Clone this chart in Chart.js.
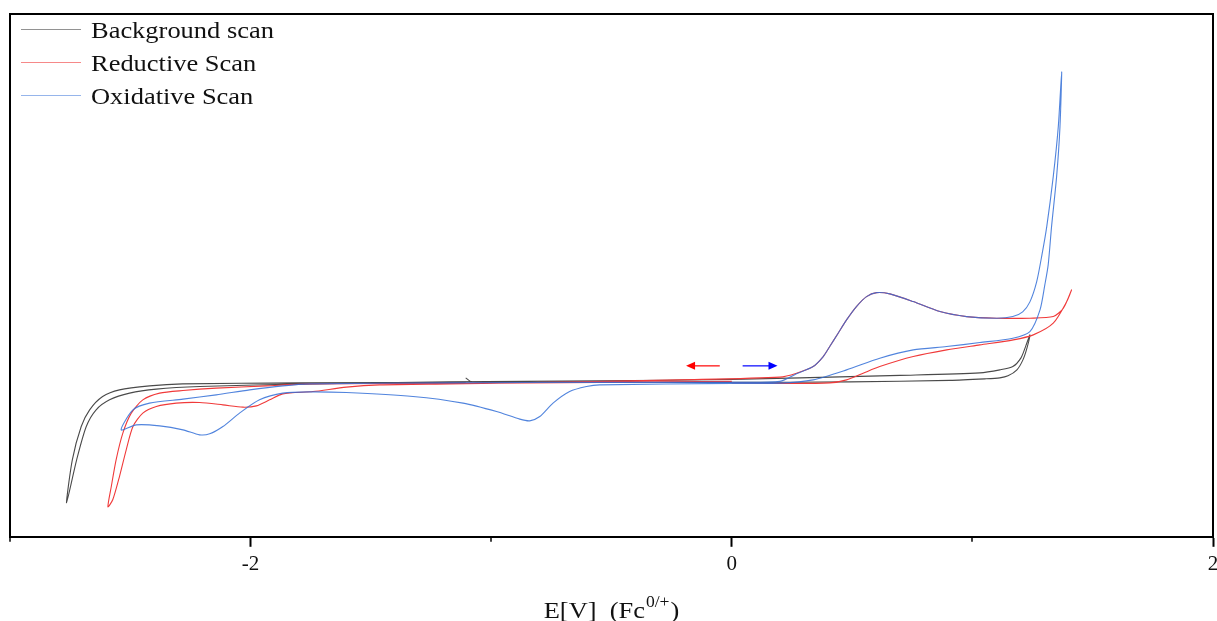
<!DOCTYPE html>
<html><head><meta charset="utf-8">
<script src="https://cdn.jsdelivr.net/npm/chart.js@4.4.0/dist/chart.umd.min.js"></script>
<style>html,body{margin:0;padding:0;background:#fff;overflow:hidden}</style>
</head><body>
<canvas id="c" width="1217" height="621"></canvas>
<script>
// ---- data (E in V vs Fc, current in arbitrary units) ----
const seriesNames = ['Background scan', 'Reductive Scan', 'Oxidative Scan'];
const seriesColors = ['#4a4a4a', '#f03a3a', 'rgba(50,110,215,0.85)'];

const bgE = [-1.106,-1.081,-0.549,0,0.491,0.906,1.052,1.114,1.148,1.185,1.210,1.227,1.239,1.222,1.202,1.168,1.114,1.031,0.699,0.283,0,-0.549,-1.173,-1.755,-2.212,-2.392,-2.503,-2.586,-2.642,-2.683,-2.723,-2.765,-2.741,-2.704,-2.669,-2.615,-2.545,-2.420,-2.283,-1.796,-1.106];
const bgI = [0.4,0,-0.05,-0.05,0,0.15,0.3,0.4,0.6,1.2,2.2,3.4,4.7,3.6,2.4,1.53,1.2,0.9,0.65,0.4,0.25,0.1,0,-0.2,-0.47,-0.73,-1.13,-1.8,-2.8,-4.47,-7.8,-12.1,-7.8,-4.47,-2.8,-1.47,-0.8,-0.4,-0.2,-0.1,-0.05];

const redE = [0,-0.549,-1.173,-1.755,-1.935,-2.143,-2.281,-2.378,-2.448,-2.496,-2.531,-2.559,-2.579,-2.593,-2.573,-2.545,-2.517,-2.489,-2.448,-2.392,-2.309,-2.212,-2.115,-2.032,-1.976,-1.921,-1.866,-1.741,-1.602,-1.464,-1.173,-0.632,-0.216,0.200,0.269,0.338,0.380,0.407,0.442,0.477,0.518,0.560,0.602,0.657,0.754,0.865,0.976,1.101,1.239,1.336,1.378,1.412,1.392,1.336,1.253,1.170,1.031,0.893,0.754,0.615,0.546,0.477,0.407,0.200,0];
const redI = [0.05,-0.05,-0.15,-0.2,-0.4,-0.63,-0.87,-1.13,-1.8,-3.13,-5.13,-7.8,-10.47,-12.5,-11.8,-9.47,-6.8,-4.47,-3.13,-2.47,-2.13,-2.07,-2.3,-2.53,-2.4,-1.8,-1.2,-0.97,-0.53,-0.3,-0.2,0,0.2,0.47,0.87,1.53,2.53,3.53,4.87,6.2,7.53,8.53,8.93,8.8,8.03,7.03,6.53,6.37,6.37,6.53,7.37,9.2,8.03,5.87,4.7,4.2,3.7,3.2,2.53,1.53,0.87,0.2,-0.1,-0.15,-0.1];

const blueE = [0,0.200,0.269,0.338,0.380,0.407,0.442,0.477,0.518,0.560,0.602,0.657,0.754,0.865,0.976,1.101,1.168,1.209,1.239,1.267,1.289,1.309,1.336,1.357,1.371,1.364,1.350,1.329,1.315,1.301,1.281,1.239,1.168,1.031,0.893,0.754,0.615,0.477,0.338,0.200,0,-0.549,-0.604,-0.674,-0.743,-0.798,-0.840,-0.881,-0.978,-1.117,-1.325,-1.602,-1.755,-1.866,-1.963,-2.046,-2.115,-2.170,-2.212,-2.281,-2.378,-2.475,-2.538,-2.489,-2.420,-2.281,-2.143,-2.004,-1.866,-1.755,-1.173,-0.549,0];
const blueI = [-0.05,0.05,0.8,1.53,2.53,3.53,4.87,6.2,7.53,8.53,8.93,8.8,8.03,7.03,6.53,6.37,6.53,7.0,8.0,10.0,12.7,15.53,20.53,25.53,31.03,25.53,20.53,15.53,11.7,9.7,7.2,5.03,4.37,3.93,3.53,3.2,2.37,1.2,0.2,-0.13,-0.15,-0.3,-0.47,-0.97,-2.13,-3.47,-3.9,-3.73,-2.97,-2.13,-1.47,-1.07,-1.0,-1.13,-1.8,-3.13,-4.47,-5.2,-5.3,-4.8,-4.4,-4.3,-4.8,-2.8,-2.13,-1.73,-1.3,-0.8,-0.4,-0.2,-0.1,-0.05,-0.05];

const majorTickValues = [-2, 0, 2];
const minorTickValues = [-3, -1, 1];
const xTitleParts = ['E[V]  (Fc', '0/+', ')'];
// scan direction arrows: [E start, E end, current]
const redArrow = [-0.05, -0.19, 1.6];
const blueArrow = [0.045, 0.19, 1.6];

const toPts = (E, I) => E.map((e, i) => ({x: e, y: I[i]}));

const decor = {
  id: 'decor',
  afterDraw(chart) {
    const {ctx, chartArea: a, scales: {x, y}} = chart;
    ctx.save();
    // frame
    ctx.strokeStyle = '#000'; ctx.lineWidth = 2;
    ctx.beginPath();
    ctx.moveTo(a.left, a.bottom); ctx.lineTo(a.left, a.top);
    ctx.lineTo(a.right, a.top); ctx.lineTo(a.right, a.bottom);
    ctx.stroke();
    // minor ticks
    ctx.lineWidth = 1.5;
    minorTickValues.forEach(v => {
      const px = Math.round(x.getPixelForValue(v));
      ctx.beginPath(); ctx.moveTo(px, a.bottom); ctx.lineTo(px, a.bottom + 5); ctx.stroke();
    });
    // arrows
    const arrow = (arr, col) => {
      const x0 = x.getPixelForValue(arr[0]), x1 = x.getPixelForValue(arr[1]), py = y.getPixelForValue(arr[2]);
      const dir = Math.sign(x1 - x0);
      ctx.strokeStyle = col; ctx.fillStyle = col; ctx.lineWidth = 1.2;
      ctx.beginPath(); ctx.moveTo(x0, py); ctx.lineTo(x1 - dir * 6, py); ctx.stroke();
      ctx.beginPath(); ctx.moveTo(x1, py); ctx.lineTo(x1 - dir * 9, py - 4); ctx.lineTo(x1 - dir * 9, py + 4); ctx.closePath(); ctx.fill();
    };
    arrow(redArrow, '#ff0000');
    arrow(blueArrow, '#0000ff');
    // legend
    chart.data.datasets.forEach((ds, i) => {
      const ly = 29.5 + i * 33;
      ctx.strokeStyle = ds.borderColor; ctx.lineWidth = 1;
      ctx.globalAlpha = 0.6;
      ctx.beginPath(); ctx.moveTo(21, ly); ctx.lineTo(81, ly); ctx.stroke();
      ctx.globalAlpha = 1;
      ctx.save();
      ctx.translate(91, ly + 8);
      ctx.scale(1.15, 1);
      ctx.fillStyle = '#111';
      ctx.font = "23px 'Liberation Serif', 'Times New Roman', serif";
      ctx.textBaseline = 'alphabetic';
      ctx.fillText(ds.label, 0, 0);
      ctx.restore();
    });
    // x axis title with superscript
    ctx.fillStyle = '#111';
    const sx = 1.1;
    const mainFont = "24px 'Liberation Serif', 'Times New Roman', serif";
    const supFont = "16px 'Liberation Serif', 'Times New Roman', serif";
    ctx.font = mainFont; const w0 = ctx.measureText(xTitleParts[0]).width * sx;
    const w2 = ctx.measureText(xTitleParts[2]).width * sx;
    ctx.font = supFont; const w1 = ctx.measureText(xTitleParts[1]).width * sx;
    const total = w0 + w1 + w2 + 2;
    let tx = (a.left + a.right) / 2 - total / 2;
    const base = 618;
    const piece = (txt, font, px, py) => {
      ctx.save(); ctx.translate(px, py); ctx.scale(sx, 1); ctx.font = font;
      ctx.textBaseline = 'alphabetic'; ctx.fillText(txt, 0, 0); ctx.restore();
    };
    piece(xTitleParts[0], mainFont, tx, base); tx += w0 + 1;
    piece(xTitleParts[1], supFont, tx, base - 11); tx += w1 + 1;
    piece(xTitleParts[2], mainFont, tx, base);
    ctx.restore();
  }
};

new Chart(document.getElementById('c'), {
  type: 'scatter',
  data: {
    datasets: [
      {label: seriesNames[0], data: toPts(bgE, bgI), borderColor: seriesColors[0], order: 3},
      {label: seriesNames[1], data: toPts(redE, redI), borderColor: seriesColors[1], order: 2},
      {label: seriesNames[2], data: toPts(blueE, blueI), borderColor: seriesColors[2], order: 1}
    ].map(d => Object.assign(d, {showLine: true, pointRadius: 0, borderWidth: 1.1, tension: 0.25, fill: false}))
  },
  options: {
    responsive: false,
    animation: false,
    layout: {padding: {left: 10, right: 4, top: 14, bottom: 39}},
    plugins: {legend: {display: false}, tooltip: {enabled: false}},
    scales: {
      x: {
        type: 'linear', min: -3, max: 2,
        afterFit: s => { s.paddingLeft = 0; s.paddingRight = 0; },
        grid: {drawOnChartArea: false, tickLength: 10, tickWidth: 2,
               tickColor: c => (c.tick && majorTickValues.includes(c.tick.value)) ? '#000' : 'rgba(0,0,0,0)'},
        border: {display: true, color: '#000', width: 2},
        ticks: {stepSize: 1, autoSkip: false, maxRotation: 0, padding: 5, color: '#111',
                font: {family: "'Liberation Serif', 'Times New Roman', serif", size: 21},
                callback: v => majorTickValues.includes(v) ? String(v) : ''}
      },
      y: {type: 'linear', min: -15.5, max: 36.8, display: false}
    }
  },
  plugins: [decor]
});
</script>
</body></html>
